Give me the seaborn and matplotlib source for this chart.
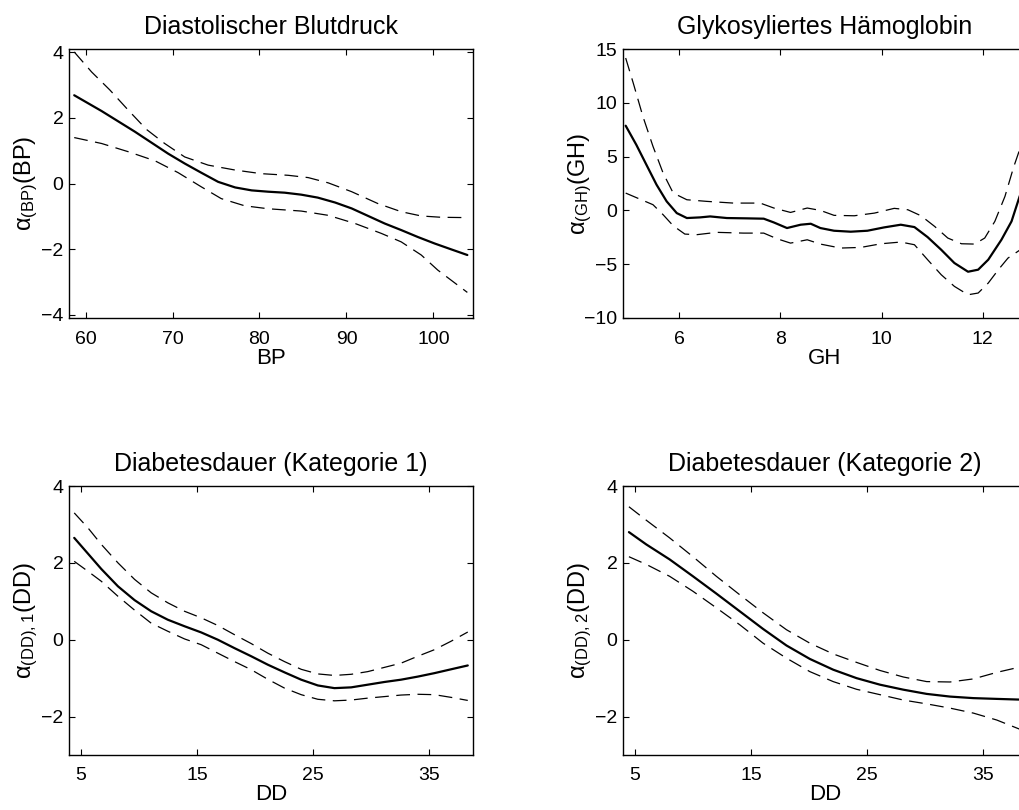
import matplotlib
matplotlib.use("Agg")
import matplotlib.pyplot as plt
import seaborn as sns

# ---- Diastolischer Blutdruck (BP) ----
bp_x = [58.7, 61.84, 65.67, 69.5, 71.4, 73.3, 75.25, 77.2, 79.1, 81.0, 82.9, 84.8,
        86.7, 88.7, 90.6, 92.5, 94.4, 96.3, 98.2, 100.15, 102.07, 103.9]
bp_fit = [2.69, 2.21, 1.58, 0.91, 0.61, 0.33, 0.05, -0.12, -0.21, -0.25, -0.28, -0.34,
          -0.43, -0.58, -0.76, -0.99, -1.22, -1.42, -1.63, -1.83, -2.01, -2.18]
bp_up_x = [58.7, 60.7, 62.8, 64.9, 67.0, 69.1, 71.4, 74.1, 77.2, 80.2, 83.3, 85.6,
           87.9, 90.6, 93.6, 96.3, 98.6, 100.9, 103.9]
bp_up = [4.01, 3.4, 2.85, 2.24, 1.65, 1.22, 0.81, 0.56, 0.41, 0.30, 0.25, 0.18,
         0.02, -0.25, -0.61, -0.86, -0.99, -1.03, -1.04]
bp_lo_x = [58.7, 61.84, 64.9, 68.0, 70.65, 73.3, 75.6, 78.3, 81.0, 84.8, 87.9, 91.0,
           94.0, 96.3, 98.6, 100.5, 102.8, 103.9]
bp_lo = [1.40, 1.22, 0.97, 0.69, 0.33, -0.10, -0.46, -0.68, -0.77, -0.84, -0.97, -1.22,
         -1.52, -1.78, -2.18, -2.64, -3.10, -3.32]

# ---- Glykosyliertes Hämoglobin (GH) ----
gh_x = [4.94, 5.15, 5.35, 5.55, 5.75, 5.95, 6.15, 6.41, 6.61, 6.94, 7.34, 7.67, 7.87,
        8.13, 8.40, 8.60, 8.79, 9.06, 9.39, 9.72, 10.05, 10.38, 10.65, 10.91, 11.18,
        11.44, 11.71, 11.91, 12.11, 12.37, 12.57, 12.73, 12.88]
gh_fit = [7.87, 6.1, 4.24, 2.39, 0.84, -0.25, -0.71, -0.65, -0.56, -0.71, -0.74, -0.77,
          -1.12, -1.64, -1.33, -1.24, -1.64, -1.89, -1.98, -1.89, -1.58, -1.33, -1.55,
          -2.48, -3.66, -4.89, -5.70, -5.51, -4.58, -2.73, -1.02, 1.30, 3.0]
gh_up_x = [4.94, 5.09, 5.28, 5.48, 5.68, 5.88, 6.15, 6.54, 7.07, 7.6, 7.87, 8.2, 8.53,
           8.79, 9.06, 9.46, 9.86, 10.25, 10.52, 10.78, 11.05, 11.31, 11.58, 11.84,
           12.04, 12.24, 12.44, 12.61, 12.73, 12.88]
gh_up = [14.16, 11.83, 8.74, 5.95, 3.47, 1.61, 0.99, 0.84, 0.68, 0.68, 0.22, -0.19,
         0.22, 0.0, -0.46, -0.50, -0.25, 0.19, 0.06, -0.50, -1.49, -2.57, -3.10, -3.13,
         -2.57, -1.02, 1.30, 4.0, 5.64, 7.5]
gh_lo_x = [4.94, 5.22, 5.48, 5.68, 5.88, 6.11, 6.34, 6.74, 7.27, 7.67, 7.93, 8.2,
           8.53, 8.79, 9.19, 9.59, 9.99, 10.38, 10.65, 10.91, 11.18, 11.44, 11.71,
           11.91, 12.11, 12.31, 12.50, 12.73, 12.88]
gh_lo = [1.61, 1.05, 0.53, -0.40, -1.43, -2.20, -2.26, -2.04, -2.11, -2.11, -2.63,
         -3.04, -2.73, -3.13, -3.50, -3.44, -3.10, -2.94, -3.19, -4.58, -5.98, -7.06,
         -7.84, -7.68, -6.75, -5.51, -4.43, -3.7, -3.2]

# ---- Diabetesdauer, Kategorie 1 (DD) ----
dd1_x = [4.45, 5.63, 6.78, 8.21, 9.64, 11.07, 12.5, 13.94, 15.37, 16.8, 18.24, 19.67,
         21.1, 22.54, 23.97, 25.4, 26.83, 28.27, 29.7, 31.13, 32.56, 34.0, 35.43,
         36.86, 38.3]
dd1_fit = [2.65, 2.24, 1.84, 1.39, 1.03, 0.74, 0.52, 0.35, 0.19, 0.0, -0.22, -0.43,
           -0.65, -0.85, -1.04, -1.19, -1.26, -1.24, -1.17, -1.10, -1.04, -0.96, -0.87,
           -0.77, -0.67]
dd1_up = [3.30, 2.91, 2.48, 2.0, 1.57, 1.22, 0.96, 0.74, 0.57, 0.37, 0.13, -0.10,
          -0.35, -0.57, -0.77, -0.89, -0.93, -0.90, -0.83, -0.72, -0.61, -0.43, -0.26,
          -0.04, 0.2]
dd1_lo = [2.04, 1.78, 1.52, 1.13, 0.77, 0.43, 0.22, 0.02, -0.13, -0.35, -0.57, -0.78,
          -1.03, -1.26, -1.43, -1.55, -1.59, -1.57, -1.52, -1.48, -1.44, -1.42, -1.43,
          -1.50, -1.58]

# ---- Diabetesdauer, Kategorie 2 (DD) ----
dd2_x = [4.51, 6.0, 8.01, 10.02, 12.03, 14.04, 16.05, 18.06, 20.07, 22.08, 24.09,
         26.1, 28.11, 30.12, 32.13, 34.14, 36.15, 38.3]
dd2_fit = [2.80, 2.48, 2.09, 1.65, 1.20, 0.74, 0.28, -0.15, -0.50, -0.78, -1.0, -1.17,
           -1.30, -1.41, -1.48, -1.52, -1.54, -1.56]
dd2_up = [3.46, 3.11, 2.65, 2.16, 1.65, 1.17, 0.70, 0.26, -0.09, -0.37, -0.59, -0.80,
          -0.97, -1.09, -1.10, -1.02, -0.85, -0.70]
dd2_lo = [2.16, 1.96, 1.65, 1.26, 0.83, 0.39, -0.09, -0.48, -0.83, -1.09, -1.29, -1.43,
          -1.57, -1.67, -1.78, -1.91, -2.09, -2.35]

titles = ["Diastolischer Blutdruck", "Glykosyliertes Hämoglobin",
          "Diabetesdauer (Kategorie 1)", "Diabetesdauer (Kategorie 2)"]
xlabels = ["BP", "GH", "DD", "DD"]
ylabels = [r"$α_{(BP)}(BP)$", r"$α_{(GH)}(GH)$",
           r"$α_{(DD),1}(DD)$", r"$α_{(DD),2}(DD)$"]
xticks = [[60, 70, 80, 90, 100], [6, 8, 10, 12], [5, 15, 25, 35], [5, 15, 25, 35]]
yticks = [[-4, -2, 0, 2, 4], [-10, -5, 0, 5, 10, 15], [-2, 0, 2, 4], [-2, 0, 2, 4]]
xlims = [(58.1, 104.55), (4.887, 12.876), (4.0, 38.75), (4.0, 38.75)]
ylims = [(-4.1, 4.1), (-10, 15), (-3, 4), (-3, 4)]

sns.set_style("ticks")
plt.rcParams["font.family"] = ["Liberation Sans", "DejaVu Sans"]
plt.rcParams["mathtext.default"] = "regular"
plt.rcParams["text.color"] = "black"
plt.rcParams["axes.labelcolor"] = "black"
plt.rcParams["axes.edgecolor"] = "black"

fig = plt.figure(figsize=(10.2, 8.1), dpi=100)
W, H = 1020.0, 810.0
positions = [
    [69 / W, 1 - 318 / H, 404 / W, 269 / H],
    [623 / W, 1 - 318 / H, 404 / W, 269 / H],
    [69 / W, 1 - 755 / H, 404 / W, 269 / H],
    [623 / W, 1 - 755 / H, 404 / W, 269 / H],
]

curves = [
    ((bp_x, bp_fit), (bp_up_x, bp_up), (bp_lo_x, bp_lo)),
    ((gh_x, gh_fit), (gh_up_x, gh_up), (gh_lo_x, gh_lo)),
    ((dd1_x, dd1_fit), (dd1_x, dd1_up), (dd1_x, dd1_lo)),
    ((dd2_x, dd2_fit), (dd2_x, dd2_up), (dd2_x, dd2_lo)),
]

dash = (0, (11, 6))
for i in range(4):
    ax = fig.add_axes(positions[i])
    (fx, fy), (ux, uy), (lx, ly) = curves[i]
    # pointwise confidence band (dashed) and fitted effect (solid)
    sns.lineplot(x=ux, y=uy, ax=ax, color="black", lw=0.9,
                 linestyle=dash, errorbar=None, sort=False)
    sns.lineplot(x=lx, y=ly, ax=ax, color="black", lw=0.9,
                 linestyle=dash, errorbar=None, sort=False)
    sns.lineplot(x=fx, y=fy, ax=ax, color="black", lw=1.6,
                 errorbar=None, sort=False)
    ax.set_xlim(*xlims[i])
    ax.set_ylim(*ylims[i])
    ax.set_xticks(xticks[i])
    ax.set_yticks(yticks[i])
    for s in ax.spines.values():
        s.set_visible(True)
        s.set_color("black")
        s.set_linewidth(1.0)
    ax.tick_params(direction="in", top=True, right=True, length=4, width=0.8,
                   labelsize=14, colors="black")
    ax.tick_params(axis="x", pad=9)
    ax.tick_params(axis="y", pad=4)
    ax.set_title(titles[i], fontsize=18, pad=11, color="black")
    ax.set_xlabel(xlabels[i], fontsize=16, labelpad=0)
    ax.set_ylabel(ylabels[i], fontsize=17)
    ax.yaxis.set_label_coords(-0.071, 0.5)

fig.savefig("out.png", dpi=100)
